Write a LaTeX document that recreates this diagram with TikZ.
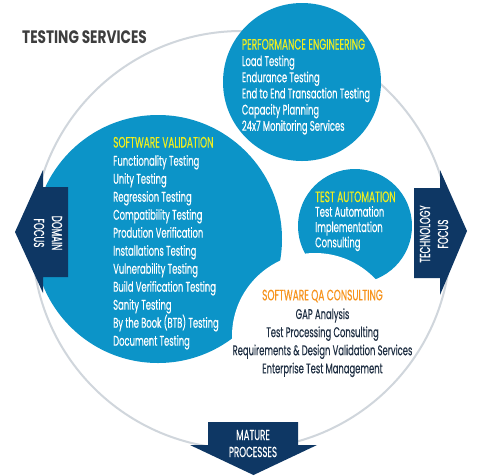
\documentclass[tikz,border=0pt]{standalone}
\usepackage{fontspec}
\setmainfont{Poppins}[FakeStretch=0.6, FakeBold=0.35]
\newfontfamily\titlefont{Poppins}[FakeStretch=0.76]
\definecolor{cblue}{RGB}{12,148,200}
\definecolor{cnavy}{RGB}{14,55,100}
\definecolor{cring}{RGB}{208,214,220}
\definecolor{cyel}{RGB}{240,238,30}
\definecolor{corange}{RGB}{247,148,30}
\definecolor{cdark}{RGB}{32,48,68}
\definecolor{cgrey}{RGB}{62,62,62}
\tikzset{
  bubble/.style={fill=cblue, draw=none},
  arrowshape/.style={fill=cnavy, draw=none},
  itemtxt/.style={inner sep=0pt, text=white, font=\fontsize{14}{16}\selectfont},
  headtxt/.style={inner sep=0pt, text=cyel, font=\fontsize{15}{16}\selectfont},
  qatxt/.style={inner sep=0pt, text=cdark, font=\fontsize{14}{16}\selectfont},
  qahead/.style={inner sep=0pt, text=corange, font=\fontsize{15}{16}\selectfont},
  arrtxt/.style={inner sep=0pt, text=white, align=center, font=\fontsize{14.5}{18}\selectfont},
}
\begin{document}
\begin{tikzpicture}[x=1pt,y=-1pt]
\useasboundingbox (0,0) rectangle (482,475);
\fill[white] (0,0) rectangle (482,475);
% outer ring
\draw[cring, line width=2pt] (241.5,240) circle[radius=209];
% bubbles
\fill[bubble] (158,239) circle[radius=124];
\fill[bubble] (302,82) circle[radius=79];
\fill[bubble] (355,226) circle[radius=57];
\fill[white] (315,336) circle[radius=83];
% arrows
\fill[arrowshape] (68,187) -- (43,187) -- (43,170) -- (15,232) -- (43,293) -- (43,277) -- (68,277) -- cycle;
\fill[arrowshape] (414,188) -- (440,188) -- (440,170) -- (467,231) -- (440,295) -- (440,278) -- (414,278) -- cycle;
\fill[arrowshape] (208,422) -- (298,422) -- (298,445) -- (317,445) -- (253.5,475) -- (190,445) -- (208,445) -- cycle;
\node[arrtxt, rotate=-90] (domain) at (48,233) {DOMAIN\\FOCUS};
\node[arrtxt, rotate=90] (tech) at (434,234) {TECHNOLOGY\\FOCUS};
\node[arrtxt, font=\fontsize{14.5}{17}\selectfont] (mature) at (253,443.5) {MATURE\\PROCESSES};
% title
\node[inner sep=0pt, anchor=base west, text=cgrey, font=\titlefont\fontsize{18}{18}\selectfont\bfseries] (title) at (22,43.5) {TESTING SERVICES};
% performance engineering
\node[headtxt, anchor=base west] (pehead) at (241.7,49.5) {PERFORMANCE ENGINEERING};
\foreach \t [count=\i] in {{Load Testing},{Endurance Testing},{End to End Transaction Testing},{Capacity Planning},{24x7 Monitoring Services}}
  \node[itemtxt, anchor=base west] (pe\i) at (241.7,{66+16.2*(\i-1)}) {\t};
% software validation
\node[headtxt, anchor=base west] (svhead) at (113,147.5) {SOFTWARE VALIDATION};
\foreach \t [count=\i] in {{Functionality Testing},{Unity Testing},{Regression Testing},{Compatibility Testing},{Prodution Verification},{Installations Testing},{Vulnerability Testing},{Build Verification Testing},{Sanity Testing},{By the Book (BTB) Testing},{Document Testing}}
  \node[itemtxt, anchor=base west] (sv\i) at (113,{165.7+18*(\i-1)}) {\t};
% test automation
\node[headtxt, anchor=base west] (tahead) at (315,202) {TEST AUTOMATION};
\foreach \t [count=\i] in {{Test Automation},{Implementation},{Consulting}}
  \node[itemtxt, anchor=base west] (ta\i) at (315,{216.7+15.3*(\i-1)}) {\t};
% software qa consulting
\node[qahead, anchor=base] (qahd) at (322.5,300.3) {SOFTWARE QA CONSULTING};
\foreach \t [count=\i] in {{GAP Analysis},{Test Processing Consulting},{Requirements \& Design Validation Services},{Enterprise Test Management}}
  \node[qatxt, anchor=base] (qa\i) at (322.5,{319+18.1*(\i-1)}) {\t};
\end{tikzpicture}
\end{document}
